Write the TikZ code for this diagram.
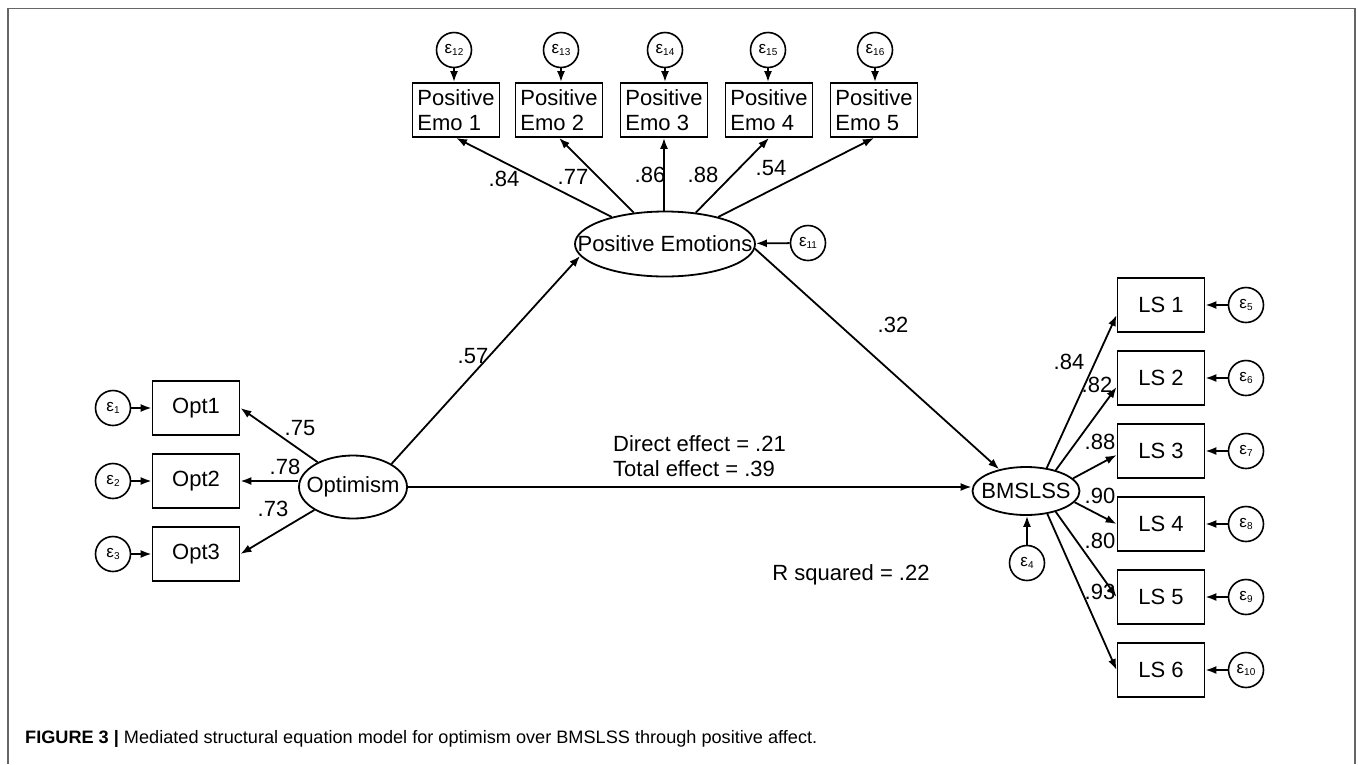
\documentclass[tikz,border=0pt]{standalone}
\usepackage{fontspec}
\usepackage{graphicx}
\setmainfont{Liberation Sans}
\usetikzlibrary{arrows.meta,shapes.geometric,calc}
\newcommand\labfont{\fontsize{22}{24.5}\selectfont}
\newcommand\epsfont{\fontsize{17}{17}\selectfont}
\newcommand\eps[1]{\raisebox{-3pt}{ε\raisebox{-2pt}{\fontsize{10}{10}\selectfont #1}}}
\begin{document}
\begin{tikzpicture}[x=1pt,y=-1pt,
  box/.style={draw,line width=1.8pt,minimum width=87pt,minimum height=54pt,inner sep=1pt,font=\labfont,align=left},
  lat/.style={draw,ellipse,line width=1.8pt,inner sep=0pt},
  err/.style={draw,circle,line width=1.6pt,minimum size=35pt,inner sep=0pt,font=\epsfont},
  path/.style={line width=1.8pt,-{Latex[length=11pt,width=8pt]}},
  coef/.style={font=\labfont,inner sep=0pt},
  frame/.style={draw=black!60,line width=1.8pt}]
\useasboundingbox (0,0) rectangle (1358,764);
\draw[frame] (8,764) -- (8,8.5) -- (1355,8.5) -- (1355,764);

% Positive emotion indicators
\node[box] (m1) at (456,110) {Positive\\Emo 1};
\node[box] (m2) at (559,110) {Positive\\Emo 2};
\node[box] (m3) at (664,110) {Positive\\Emo 3};
\node[box] (m4) at (769,110) {Positive\\Emo 4};
\node[box] (m5) at (874,110) {Positive\\Emo 5};
\node[err] (c12) at (454,50) {\eps{12}};
\node[err] (c13) at (561,50) {\eps{13}};
\node[err] (c14) at (665,50) {\eps{14}};
\node[err] (c15) at (768,50) {\eps{15}};
\node[err] (c16) at (875,50) {\eps{16}};
\foreach \c/\m in {c12/m1,c13/m2,c14/m3,c15/m4,c16/m5}
  \draw[path] (\c) -- (\c |- \m.north);

% latent variables
\node[lat,minimum width=180pt,minimum height=65pt,label={[font=\labfont]center:Positive Emotions}] (pe) at (665,244) {};
\node[lat,minimum width=108pt,minimum height=63pt,label={[font=\labfont]center:Optimism}] (opt) at (353,487) {};
\node[lat,minimum width=107pt,minimum height=48pt,label={[font=\labfont]center:BMSLSS}] (bm) at (1026,491) {};
\node[err] (c11) at (808,243) {\eps{11}};
\node[err] (c4) at (1027,563) {\eps{4}};
\draw[path] (c11) -- (pe);
\draw[path] (c4) -- (c4 |- bm.south);

\draw[path] (pe) -- (m1.south);
\draw[path] (pe) -- (m2.south);
\draw[path] (pe.north -| m3.south) -- (m3.south);
\draw[path] (pe) -- (m4.south);
\draw[path] (pe) -- (m5.south);
\node[coef] (l84a) at (504,179) {.84};
\node[coef] (l77) at (573,177) {.77};
\node[coef] (l86) at (650,175) {.86};
\node[coef] (l88) at (703,175) {.88};
\node[coef] (l54) at (771,168) {.54};

% optimism indicators
\node[box] (o1) at (196,408) {Opt1};
\node[box] (o2) at (196,481) {Opt2};
\node[box] (o3) at (196,554) {Opt3};
\node[err] (c1) at (113,408) {\eps{1}};
\node[err] (c2) at (113,481) {\eps{2}};
\node[err] (c3) at (113,554) {\eps{3}};
\foreach \c/\o in {c1/o1,c2/o2,c3/o3}
  \draw[path] (\c) -- (\o);
\draw[path] (opt) -- (o1.east);
\draw[path] (opt.west |- o2.east) -- (o2.east);
\draw[path] (opt) -- (o3.east);
\node[coef] (l75) at (300,428) {.75};
\node[coef] (l78) at (285,467) {.78};
\node[coef] (l73) at (273,509) {.73};

% structural paths
\draw[path] (opt.31) -- (pe.188);
\draw[path] (pe.-3) -- (bm.141);
\draw[path] (opt.east) -- (bm.west |- opt.east);
\node[coef] (l57) at (473,356) {.57};
\node[coef] (l32) at (893,325) {.32};
\node[coef,anchor=west,align=left] (eff) at (613,456) {Direct effect = .21\\Total effect = .39};
\node[coef] (rsq) at (851,575) {R squared = .22};

% life satisfaction indicators
\foreach \i/\y in {1/305,2/378,3/451,4/524,5/597,6/670}{
  \node[box] (ls\i) at (1161,\y) {LS \i};
}
\foreach \i/\y/\k in {1/305/5,2/378/6,3/451/7,4/524/8,5/597/9,6/670/10}{
  \node[err] (ce\k) at (1246,\y) {\eps{\k}};
  \draw[path] (ce\k) -- (ls\i);
}
\draw[path] (bm.48) -- ($(ls1.west)+(0,10)$);
\draw[path] (bm.35) -- ($(ls2.west)+(0,9)$);
\draw[path] (bm.15) -- ($(ls3.west)+(0,4)$);
\draw[path] (bm.-13) -- (ls4.west);
\draw[path] (bm.-35) -- (ls5.west);
\draw[path] (bm.-47) -- (ls6.west);
\node[coef] (k84) at (1069,362) {.84};
\node[coef] (k82) at (1097,385) {.82};
\node[coef] (k88) at (1100,442) {.88};
\node[coef] (k90) at (1100,496) {.90};
\node[coef] (k80) at (1100,541) {.80};
\node[coef] (k93) at (1100,592) {.93};

% caption
\node[anchor=base west,inner sep=0pt] (cap) at (25,743) {\resizebox{792pt}{\height}{\fontsize{18}{18}\selectfont\textbf{FIGURE 3 |} Mediated structural equation model for optimism over BMSLSS through positive affect.}};
\end{tikzpicture}
\end{document}
